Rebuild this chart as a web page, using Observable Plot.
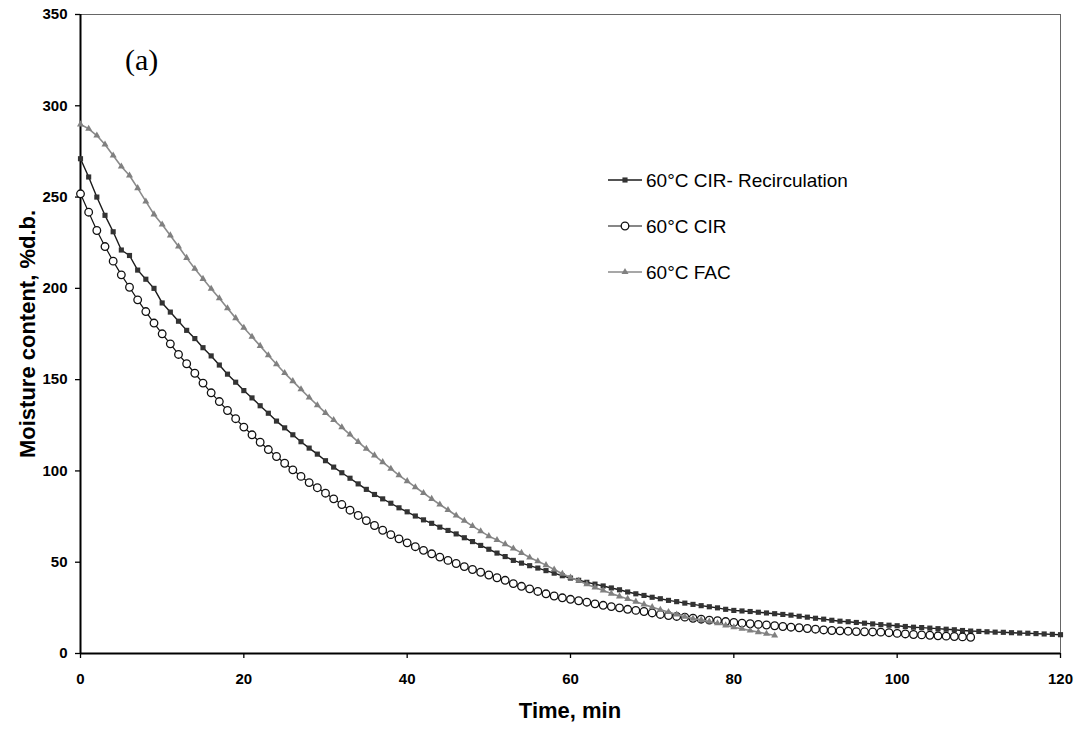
<!DOCTYPE html>
<html><head><meta charset="utf-8">
<script src="https://cdn.jsdelivr.net/npm/d3@7"></script>
<script src="https://cdn.jsdelivr.net/npm/@observablehq/plot@0.6"></script>
<style>body{margin:0;background:#fff;}#chart{position:relative;width:1080px;height:729px;}
g[aria-label$="tick label"] text{font-size:15px !important;font-weight:bold !important;}</style>
</head><body><div id="chart"></div>
<script>
// Moisture content (% d.b.) read every minute, starting at t = 0 min
const recircValues = [271,261,250,240,231,221,218,210,205,200,192,187,182,177,172.5,167.5,163,158,153,148.6,
144,140,135.7,131.6,127.3,123.6,119.8,116,112.5,109.2,105.6,102.1,99,96,92.9,89.9,87.1,84.7,82.3,79.8,
77.6,75.3,73.2,71.3,69.2,67.4,65.5,63.4,61.3,59.2,57.1,55,53.1,51,49.5,48.1,46.8,45.4,44,42.6,
41.3,40.1,39,38,37,35.9,34.9,33.7,32.7,31.8,30.8,30,29.1,28.4,27.6,26.9,26.2,25.6,25,24.2,
23.6,23.3,23,22.6,22.2,21.8,21.4,21,20.4,19.9,19.3,18.8,18.2,17.7,17.4,17,16.6,16.2,15.8,15.5,
15.2,14.8,14.4,14.2,13.9,13.6,13.3,13,12.6,12.3,12.1,11.9,11.7,11.6,11.4,11.2,11.1,10.9,10.7,10.5,10.3];
const cirValues = [251.8,241.7,231.7,222.9,214.9,207.4,200.6,193.7,187.3,181,175.1,169.6,163.8,158.7,153.5,148.1,142.8,138,133.1,128.6,
124,119.8,115.7,111.7,107.9,104.2,100.6,97,93.6,90.8,87.8,84.7,81.6,78.5,75.6,72.8,70.1,67.5,65.1,62.8,
60.6,58.5,56.5,54.6,52.8,51,49.3,47.6,46,44.5,43,41.5,40.1,38.3,36.8,35.4,34,32.7,31.5,30.5,
29.7,28.9,28.1,27.2,26.4,25.7,25,24.2,23.6,23,22.2,21.4,20.8,20.3,19.9,19.3,18.8,18.3,18,17.5,
17,16.6,16.3,15.9,15.6,15.2,14.8,14.4,14.1,13.7,13.3,12.9,12.6,12.4,12.2,12,11.9,11.8,11.7,11.4,
11,10.7,10.4,10.2,10,9.7,9.5,9.3,9.1,8.9];
const facValues = [289.8,287.4,283.7,278.8,272.8,266.7,261.8,254.9,247.6,240.5,235,229,222.9,216.7,210.7,205.2,199.8,194.6,189.1,183.7,
178.4,173.5,168.5,163.4,158.4,153.6,149.2,144.7,140.2,136,131.8,127.9,123.9,119.9,115.9,112.1,108.5,104.8,101.2,97.6,
94.4,91.1,87.9,84.7,81.6,78.6,75.6,72.7,69.8,67,64.3,62.2,59.9,57.5,55.1,52.6,50.5,48.4,46,43.7,
41.6,39.8,37.9,36.2,34.5,32.8,31.3,29.9,28.4,26.9,25.4,24,22.7,21.4,20.1,19.1,18.4,17.5,16.6,15.4,
14.4,13.5,12.6,11.7,10.8,9.9];
const seriesNames = ["60°C CIR- Recirculation", "60°C CIR", "60°C FAC"];
const xTicks = [0, 20, 40, 60, 80, 100, 120];
const yTicks = [0, 50, 100, 150, 200, 250, 300, 350];
const xLabel = "Time, min";
const yLabel = "Moisture content, %d.b.";
const panelLabel = "(a)";

const rows = (vals, name) => vals.map((v, i) => ({t: i, v, series: name}));
const recirc = rows(recircValues, seriesNames[0]);
const cir = rows(cirValues, seriesNames[1]);
const fac = rows(facValues, seriesNames[2]);

const sans = "'Liberation Sans', Arial, sans-serif";
const styles = [
  {line: "#1a1a1a", width: 1.4, symbol: "square", r: 2.9, fill: "#333", stroke: "none", sw: 0},
  {line: "#111", width: 1.2, symbol: "circle", r: 3.8, fill: "#fff", stroke: "#111", sw: 1.3},
  {line: "#8a8a8a", width: 1.6, symbol: "triangle", r: 2.6, fill: "#808080", stroke: "none", sw: 0}
];
const data = [recirc, cir, fac];

const marks = [];
data.forEach((d, k) => {
  const s = styles[k];
  marks.push(Plot.line(d, {x: "t", y: "v", stroke: s.line, strokeWidth: s.width}));
  marks.push(Plot.dot(d, {x: "t", y: "v", symbol: () => s.symbol, r: s.r, fill: s.fill, stroke: s.stroke, strokeWidth: s.sw}));
});

const plot = Plot.plot({
  width: 1080, height: 729,
  marginLeft: 80, marginRight: 20, marginTop: 14, marginBottom: 76,
  style: {fontFamily: sans, background: "#fff", overflow: "visible", fontSize: "15px"},
  x: {domain: [0, 120], ticks: xTicks, label: null},
  y: {domain: [0, 350], ticks: yTicks, label: null},
  symbol: {domain: ["square","circle","triangle"], range: ["square","circle","triangle"]},
  marks: [
    Plot.frame({stroke: "#666", strokeWidth: 1}),
    Plot.axisX({ticks: xTicks, tickSize: 5, tickPadding: 15, fontSize: 15, fontWeight: "bold", fill: "#000", label: null, tickFormat: d => d}),
    Plot.axisY({ticks: yTicks, tickSize: 5, tickPadding: 8, fontSize: 15, fontWeight: "bold", fill: "#000", label: null, tickFormat: d => d}),
    Plot.ruleX([0], {stroke: "#000", strokeWidth: 2}),
    Plot.ruleY([0], {stroke: "#000", strokeWidth: 2}),
    ...marks
  ]
});
document.getElementById("chart").appendChild(plot);

const svg = d3.select(plot);
// tick styling
svg.selectAll("[aria-label='x-axis tick'], [aria-label='y-axis tick']").attr("stroke", "#000").attr("stroke-width", 1.3);
svg.selectAll("[aria-label$='tick label']").style("font-size", "15px").style("font-weight", "bold")
  .selectAll("text").style("font-size", "15px").style("font-weight", "bold");

// axis titles
svg.append("text").attr("x", 570).attr("y", 718).attr("text-anchor", "middle")
  .attr("font-family", sans).attr("font-weight", "bold").attr("font-size", 22).attr("fill", "#000").text(xLabel);
svg.append("text").attr("transform", "translate(35,334) rotate(-90)").attr("text-anchor", "middle")
  .attr("font-family", sans).attr("font-weight", "bold").attr("font-size", 22).attr("fill", "#000").text(yLabel);
// panel label
svg.append("text").attr("x", 125).attr("y", 70).attr("text-anchor", "start").attr("font-family", "'Liberation Serif', 'Times New Roman', serif")
  .attr("font-size", 30).attr("fill", "#000").text(panelLabel);

// legend
const legendY = [180, 226, 272];
seriesNames.forEach((name, k) => {
  const s = styles[k];
  const g = svg.append("g").attr("transform", `translate(608,${legendY[k]})`);
  g.append("line").attr("x1", 0).attr("x2", 34).attr("y1", 0).attr("y2", 0).attr("stroke", s.line).attr("stroke-width", s.width);
  const sym = {square: d3.symbolSquare, circle: d3.symbolCircle, triangle: d3.symbolTriangle}[s.symbol];
  g.append("path").attr("transform", "translate(17,0)").attr("d", d3.symbol(sym, s.r * s.r * Math.PI)())
    .attr("fill", s.fill).attr("stroke", s.stroke).attr("stroke-width", s.sw);
  g.append("text").attr("x", 38).attr("y", 0).attr("dy", "0.35em").attr("text-anchor", "start").attr("font-family", sans)
    .attr("font-size", 19).attr("fill", "#000").text(name);
});
</script>
</body></html>
